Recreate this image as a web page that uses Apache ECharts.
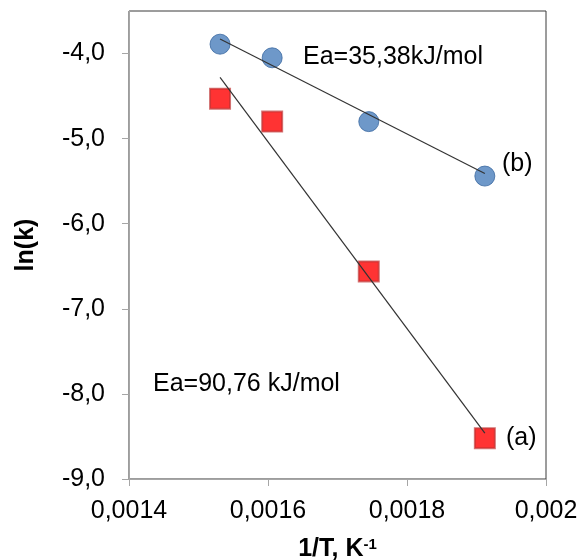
<!DOCTYPE html>
<html><head><meta charset="utf-8">
<script src="https://cdn.jsdelivr.net/npm/echarts@6/dist/echarts.min.js"></script>
<style>html,body{margin:0;padding:0;background:#fff}#c{width:584px;height:560px}</style>
</head><body><div id="c"></div>
<script>
// Data
const invT = [0.001531, 0.001606, 0.001745, 0.001912];
const lnkB = [-3.89, -4.05, -4.80, -5.44];   // (b) blue circles
const lnkA = [-4.53, -4.80, -6.56, -8.52];   // (a) red squares
const fitBx = [0.001531, 0.001912];
const fitBy = [-3.83, -5.41];
const fitAx = [0.001531, 0.001912];
const fitAy = [-4.28, -8.46];
const xTicks = [0.0014, 0.0016, 0.0018, 0.002];
const yTicks = [-9, -8, -7, -6, -5, -4];

const FONT = 'Liberation Sans, Arial, sans-serif';
const FS = 25;
const pair = (xs, ys) => xs.map((x, i) => [x, ys[i]]);
const fmtX = v => String(+v.toFixed(4)).replace('.', ',');
const fmtY = v => v.toFixed(1).replace('.', ',');

const chart = echarts.init(document.getElementById('c'), null, {renderer: 'canvas'});
chart.setOption({
  animation: false,
  backgroundColor: '#fff',
  grid: {left: 129, top: 11, right: 38, bottom: 81, containLabel: false, outerBoundsMode: 'none',
         show: true, borderColor: '#3a3a3a', borderWidth: 1, backgroundColor: 'transparent'},
  xAxis: {
    type: 'value', min: 0.0014, max: 0.002, interval: 0.0002,
    axisLine: {show: true, onZero: false, lineStyle: {color: '#a6a6a6', width: 1}},
    axisTick: {show: true, inside: false, length: 7, customValues: xTicks, lineStyle: {color: '#a6a6a6'}},
    splitLine: {show: false},
    axisLabel: {margin: 20, fontSize: FS, color: '#000', fontFamily: FONT, customValues: xTicks, formatter: fmtX},
    name: '{b|1/T, K}{s|-1}', nameLocation: 'middle', nameGap: 58,
    nameTextStyle: {rich: {
      b: {fontSize: FS, fontWeight: 'bold', color: '#000', fontFamily: FONT},
      s: {fontSize: 15, fontWeight: 'bold', color: '#000', fontFamily: FONT, verticalAlign: 'top', padding: [0, 0, 10, 0]}
    }}
  },
  yAxis: {
    type: 'value', min: -9, max: -3.5, interval: 1,
    axisLine: {show: true, onZero: false, lineStyle: {color: '#a6a6a6', width: 1}},
    axisTick: {show: true, inside: false, length: 7, customValues: yTicks, lineStyle: {color: '#a6a6a6'}},
    splitLine: {show: false},
    axisLabel: {margin: 24, fontSize: FS, color: '#000', fontFamily: FONT, customValues: yTicks, formatter: fmtY},
    name: 'ln(k)', nameLocation: 'middle', nameGap: 90, nameRotate: 90,
    nameTextStyle: {fontSize: FS, fontWeight: 'bold', color: '#000', fontFamily: FONT}
  },
  series: [
    {type: 'scatter', data: pair(invT, lnkA), symbol: 'rect', symbolSize: 20, z: 2,
     itemStyle: {color: '#ff0000', borderColor: 'rgba(190,50,50,0.85)', borderWidth: 2}},
    {type: 'scatter', data: pair(invT, lnkB), symbol: 'circle', symbolSize: 20, z: 2,
     itemStyle: {color: '#4a7ebb', borderColor: '#3a68a0', borderWidth: 1}},
    {type: 'line', data: pair(fitAx, fitAy), showSymbol: false, symbol: 'none', z: 3,
     lineStyle: {color: '#333', width: 1.2}},
    {type: 'line', data: pair(fitBx, fitBy), showSymbol: false, symbol: 'none', z: 3,
     lineStyle: {color: '#333', width: 1.2}}
  ],
  graphic: [
    {type: 'text', left: 303, top: 45, style: {text: 'Ea=35,38kJ/mol', font: FS + 'px ' + FONT, fill: '#000'}},
    {type: 'text', left: 502, top: 152, style: {text: '(b)', font: FS + 'px ' + FONT, fill: '#000'}},
    {type: 'text', left: 506, top: 426, style: {text: '(a)', font: FS + 'px ' + FONT, fill: '#000'}},
    {type: 'text', left: 153, top: 372, style: {text: 'Ea=90,76 kJ/mol', font: FS + 'px ' + FONT, fill: '#000'}}
  ]
});
</script></body></html>
